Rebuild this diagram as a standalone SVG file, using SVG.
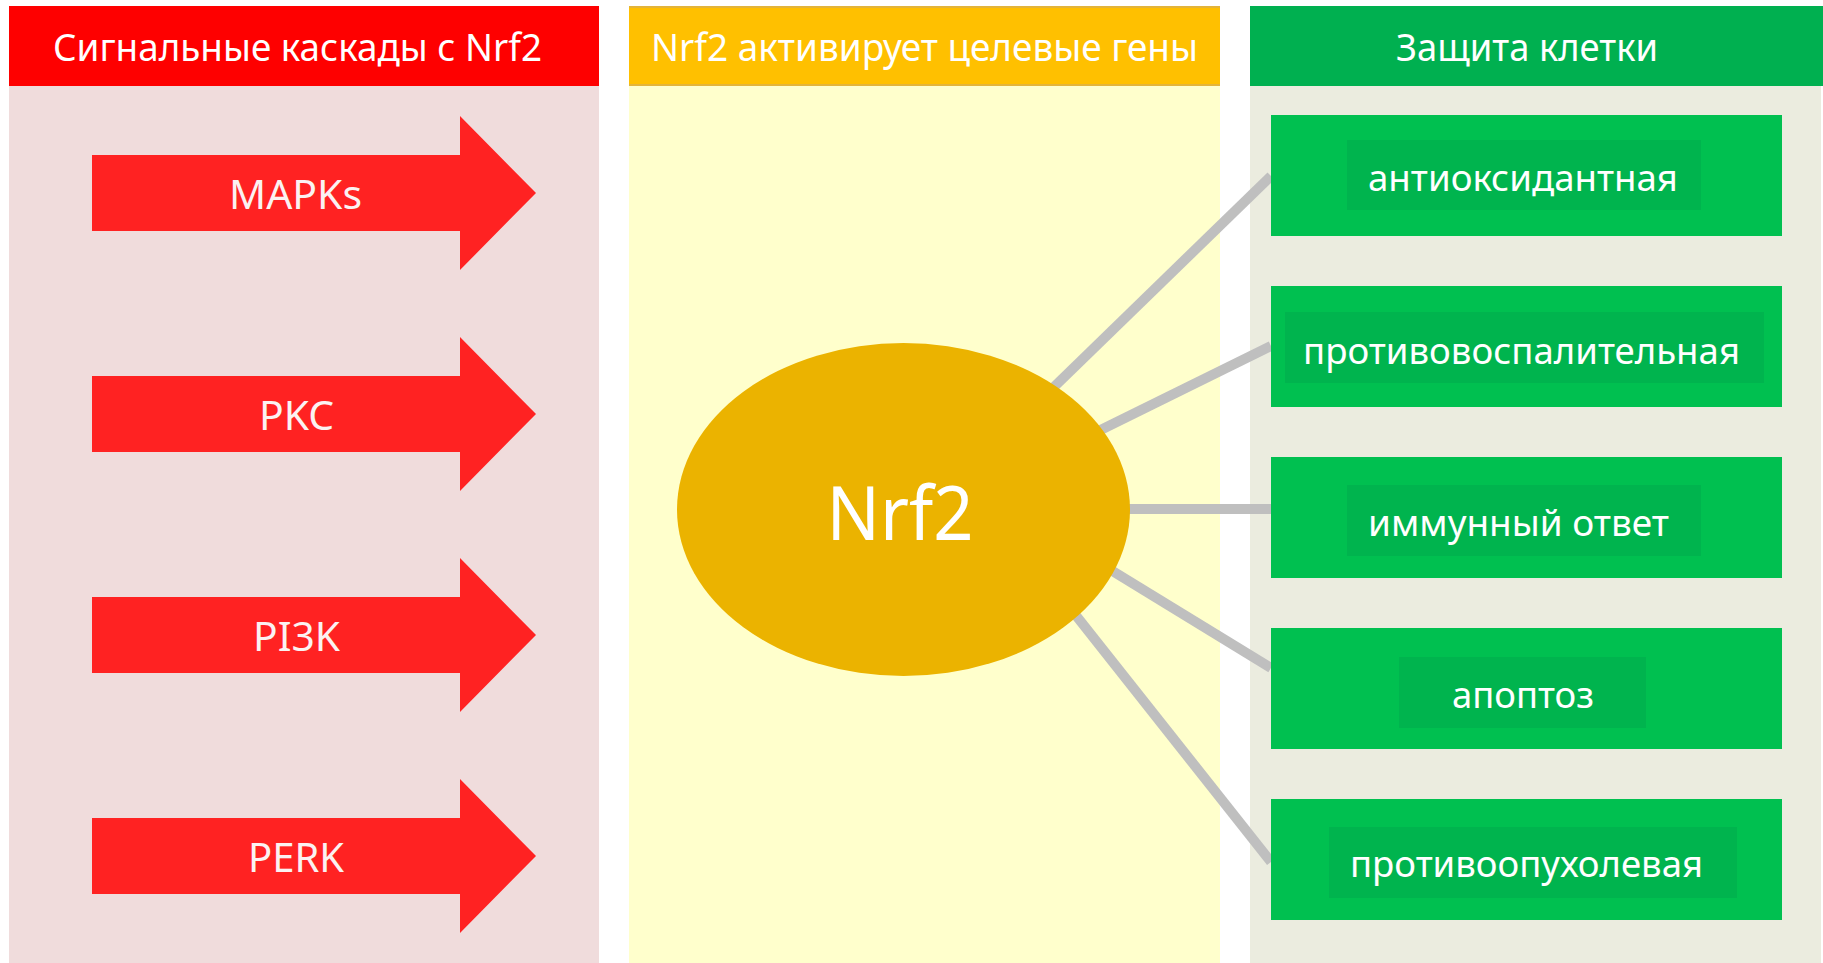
<svg xmlns="http://www.w3.org/2000/svg" width="1823" height="963" viewBox="0 0 1823 963">
<style>
.t{font-family:"Noto Sans","Open Sans","DejaVu Sans",sans-serif;fill:#ffffff}
.h{font-size:38px}
.b{font-size:37px}
.a{font-size:40px;fill:#fbf2f2}
.arrow{fill:#ff2222}
.box{fill:#00c050}
.inner{fill:#00b44e}
.conn{stroke:#bfbfbf;stroke-width:10;fill:none}
</style>
<rect x="0" y="0" width="1823" height="963" fill="#ffffff"/>
<g id="panel-left">
<rect x="9" y="6" width="590" height="957" fill="#f0dcdc"/>
<rect x="9" y="6" width="590" height="80" fill="#fe0000"/>
<text class="t h" x="53" y="61" textLength="489" lengthAdjust="spacingAndGlyphs">Сигнальные каскады с Nrf2</text>
</g>
<g id="panel-middle">
<rect x="629" y="6" width="591" height="957" fill="#ffffcc"/>
<rect x="629" y="6" width="591" height="80" fill="#ffc000"/>
<line x1="629" y1="7" x2="1220" y2="7" stroke="#e3b43a" stroke-width="2"/>
<line x1="629" y1="85" x2="1220" y2="85" stroke="#e3b43a" stroke-width="2"/>
<text class="t h" x="651" y="61" textLength="547" lengthAdjust="spacingAndGlyphs">Nrf2 активирует целевые гены</text>
</g>
<g id="panel-right">
<rect x="1250" y="6" width="571" height="957" fill="#ebecdf"/>
<rect x="1250" y="6" width="573" height="80" fill="#00b050"/>
<text class="t h" x="1396" y="61" textLength="262" lengthAdjust="spacingAndGlyphs">Защита клетки</text>
</g>
<g id="arrow-mapks">
<polygon class="arrow" points="92,155 460,155 460,116 536,193 460,270 460,231 92,231"/>
<text class="t a" x="229" y="209" textLength="133" lengthAdjust="spacingAndGlyphs">MAPKs</text>
</g>
<g id="arrow-pkc">
<polygon class="arrow" points="92,376 460,376 460,337 536,414 460,491 460,452 92,452"/>
<text class="t a" x="259" y="430" textLength="75" lengthAdjust="spacingAndGlyphs">PKC</text>
</g>
<g id="arrow-pi3k">
<polygon class="arrow" points="92,597 460,597 460,558 536,635 460,712 460,673 92,673"/>
<text class="t a" x="253" y="651" textLength="87" lengthAdjust="spacingAndGlyphs">PI3K</text>
</g>
<g id="arrow-perk">
<polygon class="arrow" points="92,818 460,818 460,779 536,856 460,933 460,894 92,894"/>
<text class="t a" x="248" y="872" textLength="96" lengthAdjust="spacingAndGlyphs">PERK</text>
</g>
<g id="connectors">
<line class="conn" x1="1020" y1="420" x2="1271" y2="176"/>
<line class="conn" x1="1060" y1="450" x2="1271" y2="346"/>
<line class="conn" x1="1100" y1="509" x2="1271" y2="509"/>
<line class="conn" x1="1070" y1="545" x2="1271" y2="668"/>
<line class="conn" x1="1040" y1="570" x2="1271" y2="862"/>
</g>
<g id="node-nrf2">
<ellipse cx="903.5" cy="509.5" rx="226.5" ry="166.5" fill="#ebb300"/>
<text class="t" x="900" y="540" font-size="74" text-anchor="middle" fill="#fffbe6" textLength="147" lengthAdjust="spacingAndGlyphs">Nrf2</text>
</g>
<g id="box-antioxidant">
<rect class="box" x="1271" y="115" width="511" height="121"/>
<rect class="inner" x="1347" y="140" width="354" height="70"/>
<text class="t b" x="1368" y="191" textLength="310" lengthAdjust="spacingAndGlyphs">антиоксидантная</text>
</g>
<g id="box-antiinflammatory">
<rect class="box" x="1271" y="286" width="511" height="121"/>
<rect class="inner" x="1285" y="312" width="479" height="71"/>
<text class="t b" x="1303" y="364" textLength="437" lengthAdjust="spacingAndGlyphs">противовоспалительная</text>
</g>
<g id="box-immune">
<rect class="box" x="1271" y="457" width="511" height="121"/>
<rect class="inner" x="1347" y="485" width="354" height="71"/>
<text class="t b" x="1368" y="536" textLength="301" lengthAdjust="spacingAndGlyphs">иммунный ответ</text>
</g>
<g id="box-apoptosis">
<rect class="box" x="1271" y="628" width="511" height="121"/>
<rect class="inner" x="1399" y="657" width="247" height="71"/>
<text class="t b" x="1452" y="708" textLength="142" lengthAdjust="spacingAndGlyphs">апоптоз</text>
</g>
<g id="box-antitumor">
<rect class="box" x="1271" y="799" width="511" height="121"/>
<rect class="inner" x="1329" y="827" width="408" height="71"/>
<text class="t b" x="1350" y="877" textLength="353" lengthAdjust="spacingAndGlyphs">противоопухолевая</text>
</g>
</svg>
